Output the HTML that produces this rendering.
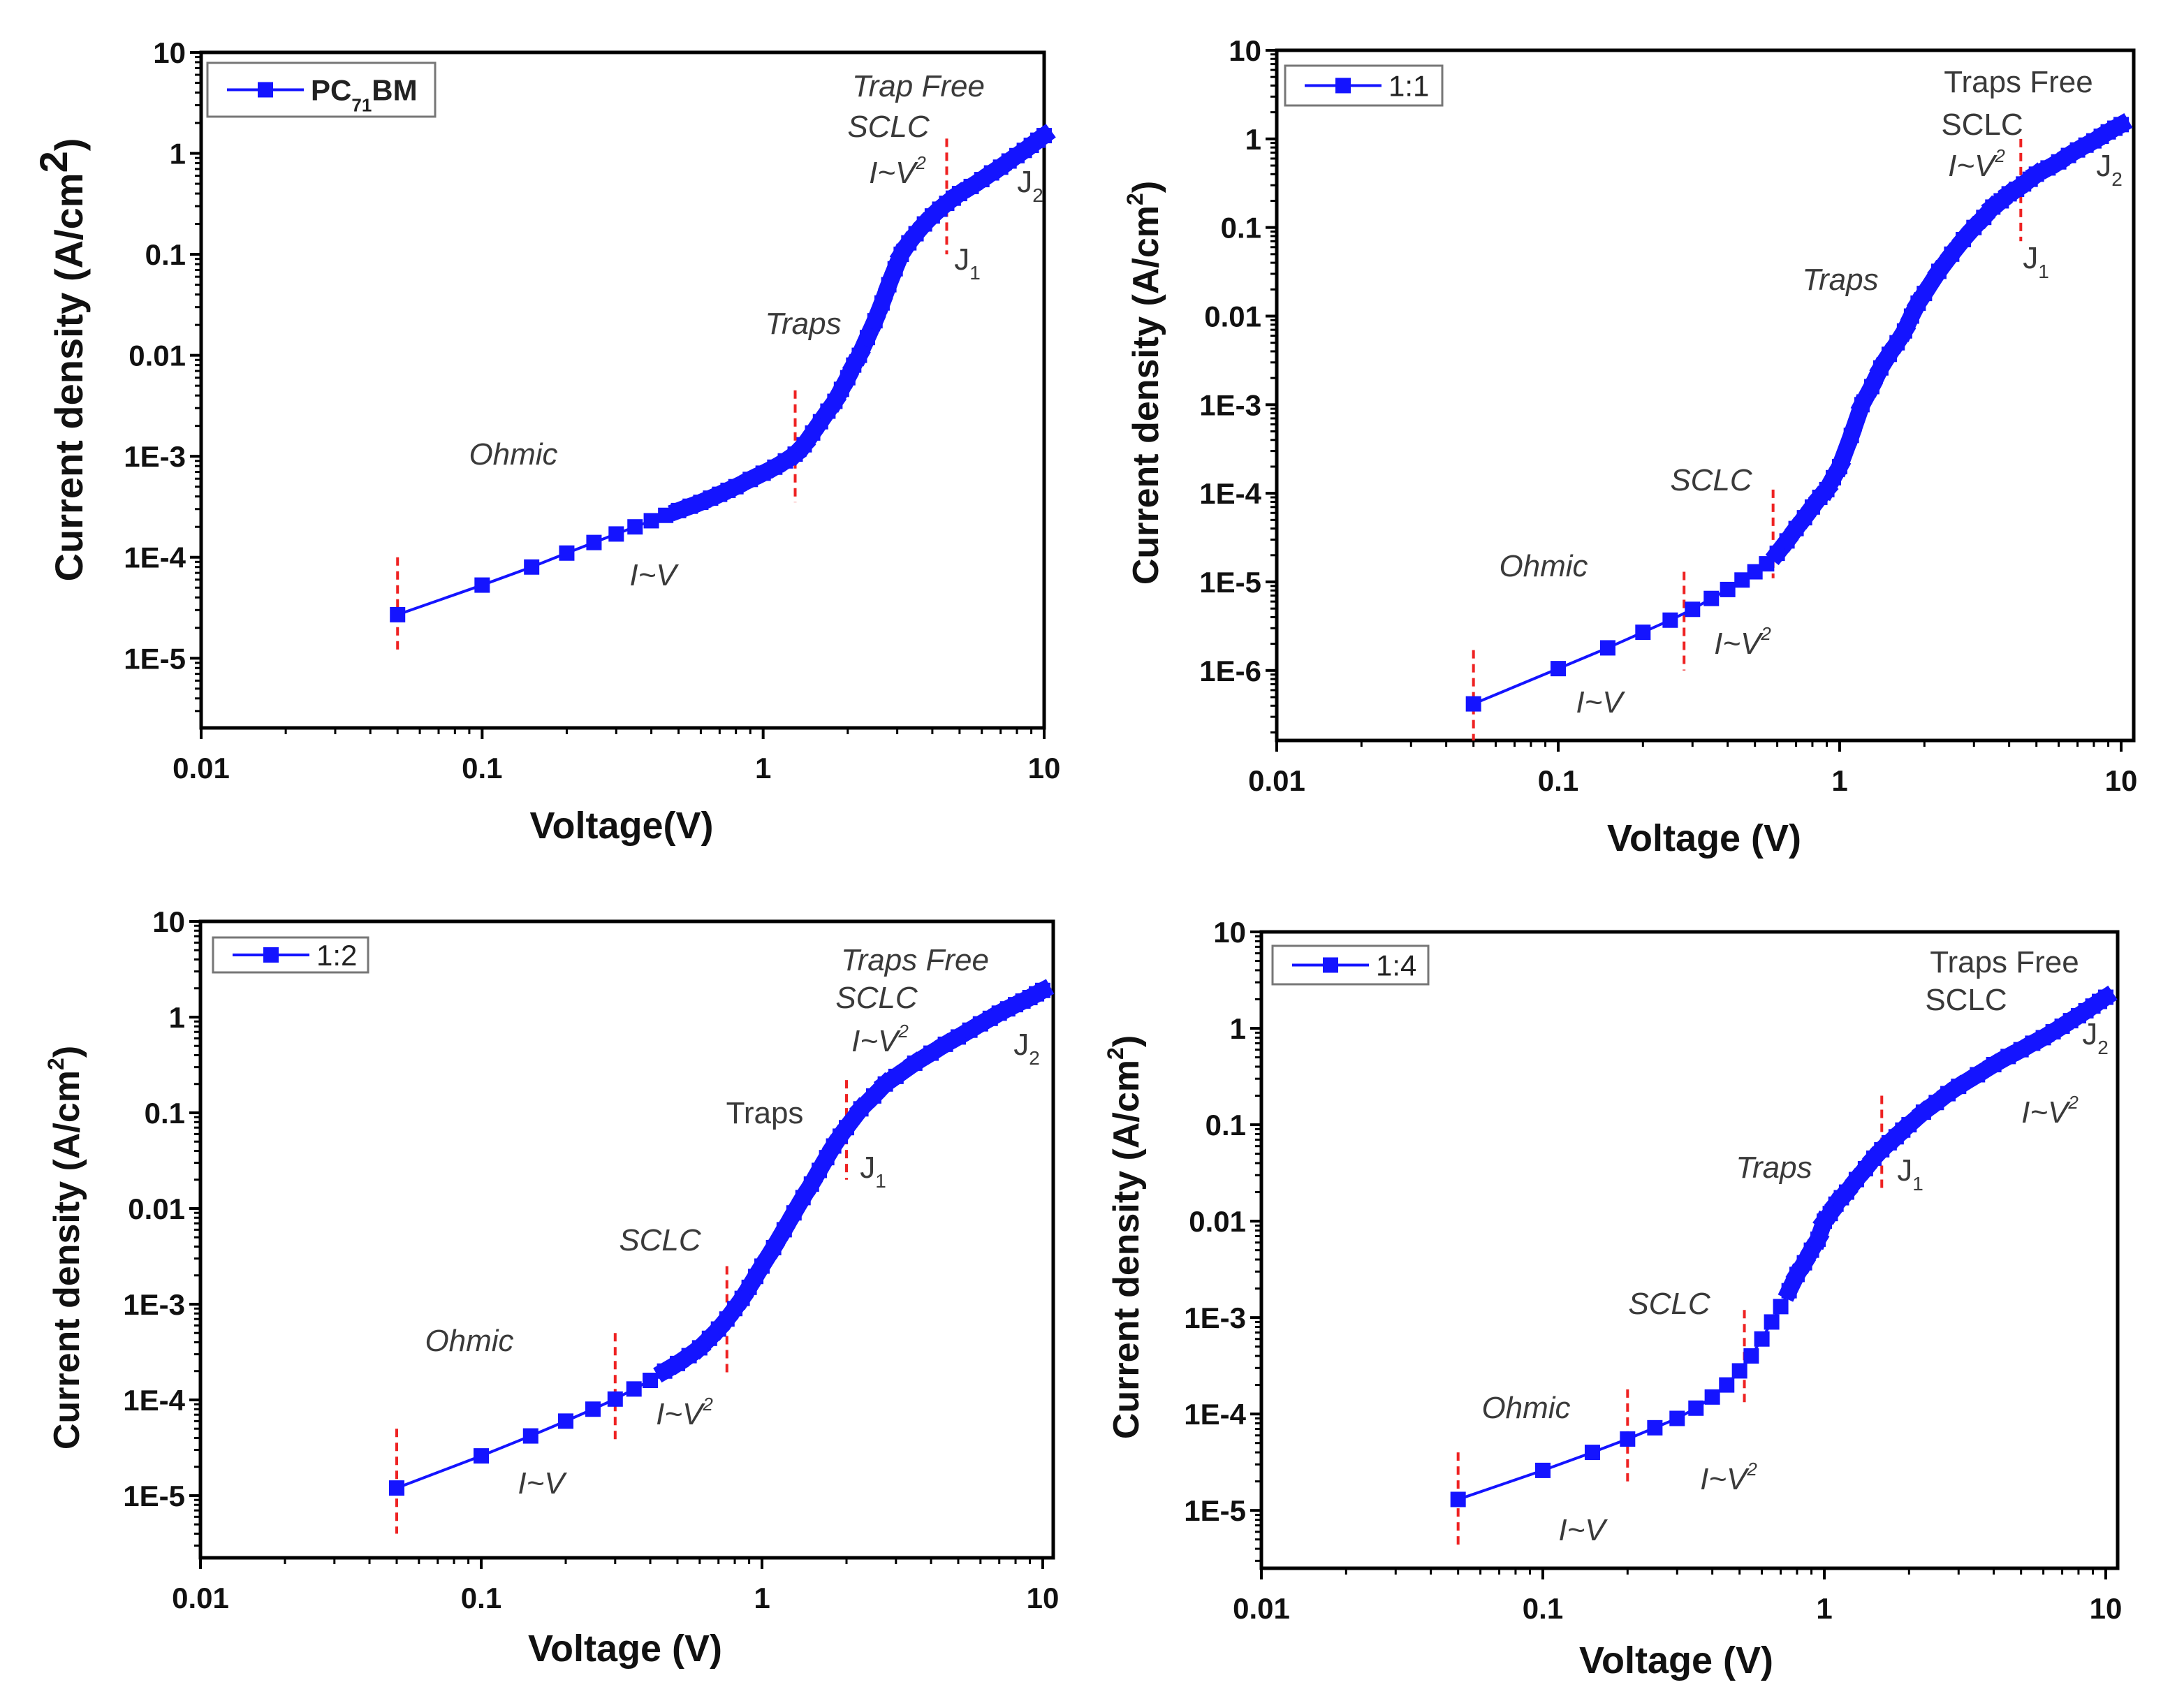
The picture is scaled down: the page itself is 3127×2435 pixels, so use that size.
<!DOCTYPE html>
<html><head><meta charset="utf-8"><title>J-V curves</title>
<style>html,body{margin:0;padding:0;background:#fff}svg{display:block}
text{font-family:"Liberation Sans",Arial,sans-serif}</style></head>
<body>
<svg id="fig" xmlns="http://www.w3.org/2000/svg" width="3127" height="2435" viewBox="0 0 3127 2435"></svg>
<script>
// ---- data ----
const xTickLabels = ["0.01","0.1","1","10"];
const p1V = [0.05,0.1,0.15,0.2,0.25,0.3,0.35,0.4,0.45,0.5,0.55,0.6,0.65,0.7,0.75,0.8,0.9,1.0,1.1,1.2,1.3,1.4,1.5,1.6,1.7,1.8,1.9,2.0,2.1,2.2,2.35,2.5,2.65,2.8,2.95,3.1,3.3,3.5,3.75,4.0,4.25,4.5,4.75,5,5.5,6,6.5,7,7.5,8,8.5,9,9.5,10];
const p1J = [2.7e-5,5.3e-5,8e-5,1.1e-4,1.4e-4,1.7e-4,2.0e-4,2.3e-4,2.6e-4,2.9e-4,3.2e-4,3.5e-4,3.85e-4,4.2e-4,4.6e-4,5.0e-4,5.9e-4,6.8e-4,7.8e-4,9.0e-4,1.05e-3,1.3e-3,1.7e-3,2.2e-3,2.8e-3,3.5e-3,4.6e-3,6e-3,8e-3,1e-2,1.5e-2,2.2e-2,3.3e-2,5e-2,7.2e-2,0.1,0.13,0.16,0.2,0.24,0.28,0.32,0.36,0.4,0.47,0.55,0.64,0.73,0.84,0.95,1.07,1.2,1.35,1.5];
const p2V = [0.05,0.1,0.15,0.2,0.25,0.3,0.35,0.4,0.45,0.5,0.55,0.6,0.65,0.7,0.75,0.8,0.85,0.9,0.95,1.0,1.1,1.2,1.3,1.4,1.5,1.6,1.7,1.8,1.9,2.0,2.25,2.5,2.75,3,3.25,3.5,3.75,4,4.25,4.5,4.75,5,5.5,6,6.5,7,7.5,8,8.5,9,9.5,10];
const p2J = [4.2e-7,1.05e-6,1.8e-6,2.7e-6,3.7e-6,4.9e-6,6.5e-6,8.2e-6,1.05e-5,1.3e-5,1.6e-5,2.1e-5,2.9e-5,4e-5,5.3e-5,7e-5,9e-5,1.1e-4,1.5e-4,2e-4,4.5e-4,1e-3,1.6e-3,2.6e-3,3.7e-3,5e-3,6.8e-3,1e-2,1.4e-2,1.8e-2,3.2e-2,5e-2,7.3e-2,0.1,0.13,0.17,0.2,0.24,0.27,0.31,0.35,0.4,0.47,0.55,0.65,0.75,0.85,0.95,1.07,1.2,1.32,1.45];
const p3V = [0.05,0.1,0.15,0.2,0.25,0.3,0.35,0.4,0.45,0.5,0.55,0.6,0.65,0.7,0.75,0.8,0.85,0.9,0.95,1.0,1.1,1.2,1.3,1.4,1.5,1.6,1.7,1.8,1.9,2.0,2.25,2.5,2.75,3,3.5,4,4.5,5,5.5,6,6.5,7,7.5,8,8.5,9,9.5,10];
const p3J = [1.2e-5,2.6e-5,4.2e-5,6e-5,8e-5,1.02e-4,1.3e-4,1.6e-4,2e-4,2.4e-4,2.9e-4,3.5e-4,4.4e-4,5.5e-4,7e-4,9e-4,1.15e-3,1.5e-3,1.95e-3,2.5e-3,3.9e-3,6e-3,9e-3,1.3e-2,1.8e-2,2.5e-2,3.4e-2,4.5e-2,5.7e-2,7e-2,0.11,0.15,0.2,0.24,0.33,0.42,0.52,0.62,0.73,0.85,0.97,1.1,1.22,1.35,1.47,1.6,1.75,1.9];
const p4V = [0.05,0.1,0.15,0.2,0.25,0.3,0.35,0.4,0.45,0.5,0.55,0.6,0.65,0.7,0.75,0.8,0.85,0.9,0.95,1.0,1.05,1.1,1.15,1.2,1.3,1.4,1.5,1.6,1.7,1.8,1.9,2,2.25,2.5,2.75,3,3.5,4,4.5,5,5.5,6,6.5,7,7.5,8,8.5,9,9.5,10];
const p4J = [1.3e-5,2.6e-5,4e-5,5.5e-5,7.2e-5,9e-5,1.15e-4,1.5e-4,2e-4,2.8e-4,4e-4,6e-4,9e-4,1.3e-3,1.9e-3,2.8e-3,3.7e-3,5e-3,6.5e-3,1e-2,1.2e-2,1.5e-2,1.75e-2,2e-2,2.7e-2,3.5e-2,4.5e-2,5.5e-2,6.5e-2,7.5e-2,8.8e-2,0.1,0.135,0.17,0.21,0.25,0.33,0.42,0.51,0.6,0.7,0.8,0.92,1.05,1.2,1.35,1.52,1.7,1.9,2.1];
const p1Dash = [[0.05,1e-4,1.1e-5],[1.3,4.5e-3,3.5e-4],[4.5,1.4,0.1]];
const p2Dash = [[0.05,1.7e-6,1.6e-7],[0.28,1.3e-5,1e-6],[0.58,1.1e-4,1.1e-5],[4.4,1.0,0.07]];
const p3Dash = [[0.05,5e-5,4e-6],[0.3,5e-4,3.5e-5],[0.75,2.5e-3,1.7e-4],[2.0,0.22,0.02]];
const p4Dash = [[0.05,4e-5,4e-6],[0.2,1.8e-4,2e-5],[0.52,1.2e-3,1.2e-4],[1.6,0.2,0.02]];

const NS = "http://www.w3.org/2000/svg";
const svg = document.getElementById('fig');
function mk(tag, attrs, parent){const e=document.createElementNS(NS,tag);for(const k in attrs)e.setAttribute(k,attrs[k]);(parent||svg).appendChild(e);return e;}

const panels = [
 {id:'p1',V:p1V,J:p1J,dash:p1Dash,band:0.5,L:288,R:1495,T:75,B:1042,x0:288,x10:1495,yTop:1,yMin:-5.69,yTicks:["10","1","0.1","0.01","1E-3","1E-4","1E-5"],
  legend:[297,90,326,77],legendLabel:'pc',ytitle:[100,515],xtitle:[890,1200,'Voltage(V)'],
  notes:[['Trap Free',1315,138,1],['SCLC',1272,196,1],['I~V²',1285,262,1],['J1',1385,386,0],['J2',1475,275,0],['Traps',1150,478,1],['Ohmic',735,665,1],['I~V',935,838,1]]},
 {id:'p2',V:p2V,J:p2J,dash:p2Dash,band:0.6,L:1828,R:3055,T:72,B:1060,x0:1828,x10:3037,yTop:1,yMin:-6.79,yTicks:["10","1","0.1","0.01","1E-3","1E-4","1E-5","1E-6"],
  legend:[1840,94,225,57],legendLabel:'1:1',ytitle:[1640,548],xtitle:[2440,1218,'Voltage (V)'],
  notes:[['Traps Free',2890,132,0],['SCLC',2838,193,0],['I~V²',2830,252,1],['J2',3020,252,0],['J1',2915,384,0],['Traps',2635,415,1],['SCLC',2450,702,1],['Ohmic',2210,825,1],['I~V²',2495,936,1],['I~V',2290,1020,1]]},
 {id:'p3',V:p3V,J:p3J,dash:p3Dash,band:0.45,L:287,R:1508,T:1319,B:2230,x0:287,x10:1493,yTop:1,yMin:-5.65,yTicks:["10","1","0.1","0.01","1E-3","1E-4","1E-5"],
  legend:[305,1342,222,50],legendLabel:'1:2',ytitle:[95,1786],xtitle:[895,2378,'Voltage (V)'],
  notes:[['Traps Free',1310,1389,1],['SCLC',1255,1443,1],['I~V²',1260,1505,1],['J2',1470,1510,0],['Traps',1095,1608,0],['J1',1250,1686,0],['SCLC',945,1790,1],['Ohmic',672,1934,1],['I~V²',980,2039,1],['I~V',775,2138,1]]},
 {id:'p4',V:p4V,J:p4J,dash:p4Dash,band:0.75,L:1806,R:3032,T:1334,B:2245,x0:1806,x10:3015,yTop:1,yMin:-5.6,yTicks:["10","1","0.1","0.01","1E-3","1E-4","1E-5"],
  legend:[1822,1354,223,55],legendLabel:'1:4',ytitle:[1612,1771],xtitle:[2400,2395,'Voltage (V)'],
  notes:[['Traps Free',2870,1392,0],['SCLC',2815,1446,0],['J2',3000,1495,0],['I~V²',2935,1607,1],['Traps',2540,1686,1],['J1',2735,1690,0],['SCLC',2390,1881,1],['Ohmic',2185,2030,1],['I~V²',2475,2132,1],['I~V',2265,2205,1]]}
];

function addNote(g, n){
  const [txt,x,y,it]=n;
  const t=mk('text',{x:x,y:y,'text-anchor':'middle','font-size':44,fill:'#3a3a3a','font-style':it?'italic':'normal'},g);
  
  
  if(txt==='J1'||txt==='J2'){
    t.appendChild(document.createTextNode('J'));
    const s=mk('tspan',{'font-size':28,dy:14},t);s.textContent=txt[1];
  } else if(txt.endsWith('²')){
    t.appendChild(document.createTextNode(txt.slice(0,-1)));
    const s=mk('tspan',{'font-size':26,dy:-20},t);s.textContent='2';
  } else t.textContent=txt;
}

panels.forEach(p=>{
  const g=mk('g',{});
  
  
  const dec=(p.x10-p.x0)/3;
  const X=v=>p.x0+dec*(Math.log10(v)+2);
  const ydec=(p.B-p.T)/(p.yTop-p.yMin);
  const Y=j=>p.T+ydec*(p.yTop-Math.log10(j));
  const fr=mk('rect',{x:p.L,y:p.T,width:p.R-p.L,height:p.B-p.T,fill:'none',stroke:'#000','stroke-width':5},g);
  
  
  for(let d=-2;d<=1;d++){
    const xv=Math.pow(10,d);
    const tk=mk('line',{x1:X(xv),x2:X(xv),y1:p.B,y2:p.B+16,stroke:'#000','stroke-width':4},g);
    
    
    const lb=mk('text',{x:X(xv),y:p.B+72,'text-anchor':'middle','font-size':42,'font-weight':'bold',fill:'#111'},g);
    
    
    lb.textContent=xTickLabels[d+2];
    if(d<1) for(let m=2;m<=9;m++){
      const xm=X(m*xv);
      const mt=mk('line',{x1:xm,x2:xm,y1:p.B,y2:p.B+9,stroke:'#000','stroke-width':3},g);
      
      
    }
  }
  p.yTicks.forEach((lab,i)=>{
    const e=p.yTop-i; const yy=Y(Math.pow(10,e));
    const tk=mk('line',{x1:p.L-16,x2:p.L,y1:yy,y2:yy,stroke:'#000','stroke-width':4},g);
    
    
    const lb=mk('text',{x:p.L-22,y:yy+15,'text-anchor':'end','font-size':42,'font-weight':'bold',fill:'#111'},g);
    
    
    lb.textContent=lab;
  });
  for(let e=Math.floor(p.yMin);e<p.yTop;e++){
    for(let m=2;m<=9;m++){
      const v=m*Math.pow(10,e); const lv=Math.log10(v);
      if(lv<p.yMin||lv>p.yTop) continue;
      const mt=mk('line',{x1:p.L-9,x2:p.L,y1:Y(v),y2:Y(v),stroke:'#000','stroke-width':3},g);
      
      
    }
  }
  const xt=mk('text',{x:p.xtitle[0],y:p.xtitle[1],'text-anchor':'middle','font-size':54,'font-weight':'bold',fill:'#111'},g);
  
  
  xt.textContent=p.xtitle[2];
  const yt=mk('text',{x:0,y:0,'text-anchor':'middle','font-size':p.id==='p1'?56:52,'font-weight':'bold',fill:'#111',transform:`translate(${p.ytitle[0]+18},${p.ytitle[1]}) rotate(-90)`},g);
  
  
  yt.appendChild(document.createTextNode('Current density (A/cm'));
  const sup=mk('tspan',{'font-size':p.id==='p1'?56:32,dy:-22},yt);sup.textContent='2';
  const cl=mk('tspan',{dy:22},yt);cl.textContent=')';
  p.dash.forEach(d=>{
    const l=mk('line',{x1:X(d[0]),x2:X(d[0]),y1:Y(d[1]),y2:Math.min(Y(d[2]),p.B),stroke:'#ee2222','stroke-width':4,'stroke-dasharray':'12,8'},g);
    
    
  });
  const pts=p.V.map((v,i)=>[X(v),Y(p.J[i])]);
  const ln=mk('polyline',{points:pts.map(q=>q.join(',')).join(' '),fill:'none',stroke:'#1414ff','stroke-width':4},g);
  
  
  for(let i=1;i<pts.length;i++){
    if(p.V[i-1]>=p.band){
      const b=mk('line',{x1:pts[i-1][0],y1:pts[i-1][1],x2:pts[i][0],y2:pts[i][1],stroke:'#1414ff','stroke-width':24,'stroke-linecap':'square'},g);
      
      
    }
  }
  pts.forEach((q,i)=>{
    const r=mk('rect',{x:q[0]-11,y:q[1]-11,width:22,height:22,fill:'#1414ff'},g);
    
    
  });
  const [lx,ly,lw,lh]=p.legend;
  const lg=mk('g',{},g);
  
  
  mk('rect',{x:lx,y:ly,width:lw,height:lh,fill:'#fff',stroke:'#777','stroke-width':3},lg);
  const cy=ly+lh/2;
  mk('line',{x1:lx+28,x2:lx+138,y1:cy,y2:cy,stroke:'#1414ff','stroke-width':4},lg);
  mk('rect',{x:lx+72,y:cy-11,width:22,height:22,fill:'#1414ff'},lg);
  const lt=mk('text',{x:lx+148,y:cy+15,'font-size':42,fill:'#222'},lg);
  if(p.legendLabel==='pc'){
    lt.setAttribute('font-weight','bold');
    lt.appendChild(document.createTextNode('PC'));
    const s=mk('tspan',{'font-size':26,dy:16},lt);s.textContent='71';
    const s2=mk('tspan',{dy:-16},lt);s2.textContent='BM';
  } else lt.textContent=p.legendLabel;
  p.notes.forEach(n=>addNote(g,n));
});
</script>
</body></html>
